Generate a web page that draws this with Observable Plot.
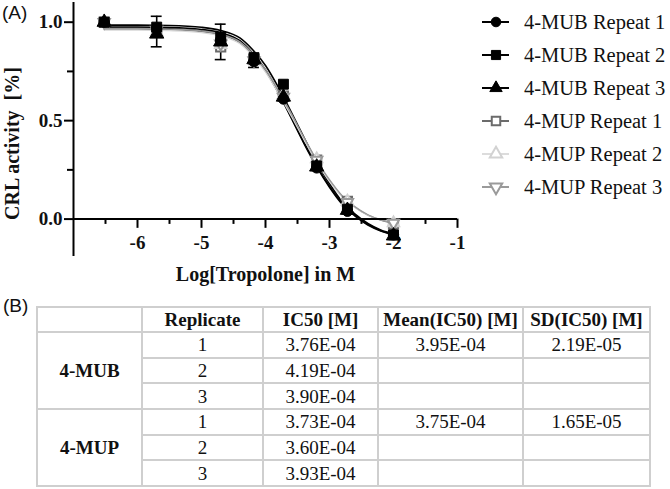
<!DOCTYPE html>
<html>
<head>
<meta charset="utf-8">
<script src="https://cdn.jsdelivr.net/npm/d3@7"></script>
<script src="https://cdn.jsdelivr.net/npm/@observablehq/plot@0.6"></script>
<style>
  html, body { margin: 0; padding: 0; background: #fff; }
  #root { position: relative; width: 670px; height: 489px; overflow: hidden; font-family: "Liberation Serif", "Times New Roman", serif; color: #000; }
  #plot { position: absolute; left: 0; top: 0; }
  .panel { position: absolute; font-family: "Liberation Sans", Arial, sans-serif; font-size: 19px; line-height: 1; color: #111; }
  #legend { position: absolute; left: 480px; top: 0; width: 190px; }
  .lrow { position: absolute; left: 0; height: 20px; display: flex; align-items: center; white-space: nowrap; }
  .lrow svg { display: block; }
  .lrow span { font-size: 20.5px; line-height: 1; margin-left: 14px; color: #111; }
  table { position: absolute; left: 36px; top: 306px; border-collapse: collapse; table-layout: fixed; width: 613px; }
  td { border: 2px solid #cfcfcf; padding: 0; text-align: center; vertical-align: middle; font-size: 19px; line-height: 1; color: #111; overflow: hidden; white-space: nowrap; }
  tr.h td { font-weight: bold; }
  td.g { font-weight: bold; }
</style>
</head>
<body>
<div id="root">
  <div id="plot"></div>
  <div class="panel" style="left:2px;top:3px">(A)</div>
  <div id="legend"></div>
  <div class="panel" style="left:3px;top:296px">(B)</div>
  <table id="tbl"></table>
</div>
<script>
// ---------- data ----------
const xPts = [-6.52, -5.70, -4.70, -4.18, -3.72, -3.20, -2.72, -2.00];
const mub1 = [1.00, 0.97, 0.91, 0.80, 0.61, 0.26, 0.04, -0.08];
const mub2 = [1.00, 0.975, 0.925, 0.82, 0.685, 0.27, 0.05, -0.08];
const mub3 = [1.00, 0.94, 0.90, 0.81, 0.62, 0.265, 0.045, -0.085];
const mup1 = [1.00, 0.955, 0.875, 0.81, 0.625, 0.30, 0.09, -0.025];
const mup2 = [1.00, 0.95, 0.885, 0.81, 0.63, 0.305, 0.09, -0.02];
const mup3 = [1.00, 0.96, 0.89, 0.805, 0.62, 0.30, 0.085, -0.02];

// error bars (x, low, high)
const errX = [-5.70, -4.70, -4.18];
const errLo = [0.875, 0.81, 0.77];
const errHi = [1.03, 0.99, 0.82];

// fitted curves
const curveX = [-6.52, -6.0, -5.5, -5.0, -4.7, -4.4, -4.2, -4.0, -3.8, -3.6, -3.4, -3.2, -3.0, -2.8, -2.6, -2.4, -2.2, -2.0];
const fitMub1 = [0.975, 0.975, 0.973, 0.963, 0.946, 0.906, 0.842, 0.758, 0.643, 0.515, 0.385, 0.265, 0.162, 0.075, 0.015, -0.03, -0.06, -0.08];
const fitMub2 = [0.985, 0.985, 0.983, 0.974, 0.958, 0.92, 0.86, 0.78, 0.67, 0.545, 0.415, 0.29, 0.18, 0.088, 0.025, -0.022, -0.055, -0.075];
const fitMub3 = [0.97, 0.97, 0.968, 0.958, 0.941, 0.9, 0.837, 0.755, 0.643, 0.518, 0.39, 0.27, 0.167, 0.08, 0.02, -0.026, -0.058, -0.078];
const fitMup1 = [0.965, 0.965, 0.962, 0.952, 0.935, 0.895, 0.834, 0.753, 0.648, 0.532, 0.41, 0.295, 0.195, 0.115, 0.06, 0.02, -0.005, -0.02];
const fitMup2 = [0.96, 0.96, 0.957, 0.947, 0.93, 0.89, 0.828, 0.746, 0.64, 0.525, 0.405, 0.29, 0.19, 0.112, 0.058, 0.02, -0.003, -0.018];
const fitMup3 = [0.968, 0.968, 0.965, 0.956, 0.94, 0.9, 0.84, 0.76, 0.655, 0.538, 0.415, 0.3, 0.2, 0.118, 0.062, 0.022, -0.003, -0.018];

const legendLabels = ["4-MUB Repeat 1", "4-MUB Repeat 2", "4-MUB Repeat 3", "4-MUP Repeat 1", "4-MUP Repeat 2", "4-MUP Repeat 3"];

const xMajorTicks = [-6, -5, -4, -3, -2, -1];
const xTickLabels = ["-6", "-5", "-4", "-3", "-2", "-1"];
const xMinorTicks = [-6.5, -5.5, -4.5, -3.5, -2.5, -1.5];
const yMajorTicks = [0, 0.5, 1.0];
const yTickLabels = ["0.0", "0.5", "1.0"];
const yMinorTicks = [0.25, 0.75];

const xTitle = "Log[Tropolone] in M";
const yTitle = "CRL activity\u00a0\u00a0[%]";

// table
const tableHeaders = ["", "Replicate", "IC50 [M]", "Mean(IC50) [M]", "SD(IC50) [M]"];
const groups = ["4-MUB", "4-MUP"];
const replicates = ["1", "2", "3"];
const ic50 = [["3.76E-04", "4.19E-04", "3.90E-04"], ["3.73E-04", "3.60E-04", "3.93E-04"]];
const meanIC50 = ["3.95E-04", "3.75E-04"];
const sdIC50 = ["2.19E-05", "1.65E-05"];

// ---------- styles per series ----------
const seriesStyle = [
  {symbol: "circle", r: 5.2, stroke: "#000", fill: "#000", rotate: 0},
  {symbol: "square", r: 5.6, stroke: "#000", fill: "#000", rotate: 0},
  {symbol: "triangle", r: 5.3, stroke: "#000", fill: "#000", rotate: 0},
  {symbol: "square", r: 5.2, stroke: "#6b6b6b", fill: "#fff", rotate: 0},
  {symbol: "triangle", r: 4.2, stroke: "#d2d2d2", fill: "#fff", rotate: 0},
  {symbol: "triangle", r: 4.2, stroke: "#9a9a9a", fill: "#fff", rotate: 180}
];
const pointSets = [mub1, mub2, mub3, mup1, mup2, mup3];
const fitSets = [fitMub1, fitMub2, fitMub3, fitMup1, fitMup2, fitMup3];

const series = legendLabels.map((name, k) => ({
  name, ...seriesStyle[k],
  points: xPts.map((x, i) => ({x, y: pointSets[k][i]})),
  fit: curveX.map((x, i) => ({x, y: fitSets[k][i]}))
}));
const errData = errX.map((x, i) => ({x, lo: errLo[i], hi: errHi[i]}));

const majorLen = 0.047, minorLen = 0.027, capHalf = 0.085;

const marks = [];
// fitted curves
for (const s of series) {
  marks.push(Plot.line(s.fit, {x: "x", y: "y", curve: "monotone-x", stroke: s.stroke === "#d2d2d2" ? "#d8d8d8" : s.stroke, strokeWidth: s.fill === "#000" ? 1.6 : 1.3}));
}
// axes lines
marks.push(Plot.ruleX([-7], {stroke: "#000", strokeWidth: 2}));
marks.push(Plot.ruleY([0], {stroke: "#000", strokeWidth: 2}));
marks.push(Plot.ruleX(xMajorTicks, {x: d => d, y1: 0, y2: -majorLen, stroke: "#000", strokeWidth: 2}));
marks.push(Plot.ruleX(xMinorTicks, {x: d => d, y1: 0, y2: -minorLen, stroke: "#000", strokeWidth: 2}));
marks.push(Plot.text(xMajorTicks, {x: d => d, y: 0, text: (d, i) => xTickLabels[i], dy: 24, fontSize: 19, fontWeight: "bold", fill: "#111"}));
marks.push(Plot.axisY({ticks: yMajorTicks, tickSize: 9, tickPadding: 2, tickFormat: d => yTickLabels[yMajorTicks.indexOf(d)], fontSize: 19, fontWeight: "bold", strokeWidth: 2, label: null, stroke: "#000", fill: "#111"}));
marks.push(Plot.axisY({ticks: yMinorTicks, tickSize: 6, tickFormat: () => "", strokeWidth: 2, label: null, stroke: "#000"}));
// axis titles
marks.push(Plot.text([xTitle], {frameAnchor: "bottom", text: d => d, dy: 18, fontSize: 20, fontWeight: "bold", fill: "#111", lineAnchor: "middle"}));
marks.push(Plot.text([yTitle], {frameAnchor: "left", text: d => d, dx: -61, dy: 14, rotate: -90, fontSize: 20, fontWeight: "bold", fill: "#111", textAnchor: "middle", lineAnchor: "middle"}));
// error bars
marks.push(Plot.ruleX(errData, {x: "x", y1: "lo", y2: "hi", stroke: "#000", strokeWidth: 1.6}));
marks.push(Plot.ruleY(errData, {y: "lo", x1: d => d.x - capHalf, x2: d => d.x + capHalf, stroke: "#000", strokeWidth: 1.6}));
marks.push(Plot.ruleY(errData, {y: "hi", x1: d => d.x - capHalf, x2: d => d.x + capHalf, stroke: "#000", strokeWidth: 1.6}));
// markers: 4-MUP first, then 4-MUB (square drawn last, on top)
const drawOrder = [3, 4, 5, 2, 0, 1];
for (const k of drawOrder) {
  const s = series[k];
  marks.push(Plot.dot(s.points, {x: "x", y: "y", symbol: s.symbol, r: s.r, fill: s.fill, stroke: s.stroke, strokeWidth: s.fill === "#000" ? 1 : 2, rotate: s.rotate}));
}

const chart = Plot.plot({
  width: 670,
  height: 290,
  marginLeft: 73,
  marginRight: 213,
  marginTop: 2,
  marginBottom: 34,
  x: {domain: [-7, -1], axis: null},
  y: {domain: [-0.19, 1.1], axis: null},
  style: {fontFamily: "'Liberation Serif', 'Times New Roman', serif", fontSize: "19px", background: "transparent", color: "#000", overflow: "visible"},
  marks
});
document.getElementById("plot").appendChild(chart);

// ---------- legend ----------
const legend = document.getElementById("legend");
const symMap = {circle: d3.symbolCircle, square: d3.symbolSquare, triangle: d3.symbolTriangle};
const legendTops = [12, 45, 78, 111, 144, 177];
series.forEach((s, k) => {
  const row = document.createElement("div");
  row.className = "lrow";
  row.style.top = legendTops[k] + "px";
  const rr = s.symbol === "triangle" ? 4.6 : s.r * 0.92;
  const sz = Math.PI * rr * rr;
  const path = d3.symbol(symMap[s.symbol], sz)();
  const lineCol = s.stroke === "#d2d2d2" ? "#dcdcdc" : s.stroke;
  row.innerHTML =
    `<svg width="30" height="20" viewBox="0 0 30 20">
       <line x1="2" y1="10" x2="29" y2="10" stroke="${lineCol}" stroke-width="2"/>
       <path d="${path}" transform="translate(16,10) rotate(${s.rotate})" fill="${s.fill}" stroke="${s.stroke}" stroke-width="${s.fill === '#000' ? 1 : 2}"/>
     </svg><span>${s.name}</span>`;
  legend.appendChild(row);
});

// ---------- table ----------
const tbl = document.getElementById("tbl");
const colW = [105, 121, 115, 145, 127];
let html = "<colgroup>" + colW.map(w => `<col style="width:${w}px">`).join("") + "</colgroup>";
html += `<tr class="h" style="height:25px">` + tableHeaders.map(h => `<td>${h}</td>`).join("") + "</tr>";
groups.forEach((g, gi) => {
  replicates.forEach((r, ri) => {
    html += `<tr style="height:25.7px">`;
    if (ri === 0) html += `<td class="g" rowspan="${replicates.length}">${g}</td>`;
    html += `<td>${r}</td><td>${ic50[gi][ri]}</td><td>${ri === 0 ? meanIC50[gi] : ""}</td><td>${ri === 0 ? sdIC50[gi] : ""}</td>`;
    html += "</tr>";
  });
});
tbl.innerHTML = html;
</script>
</body>
</html>
